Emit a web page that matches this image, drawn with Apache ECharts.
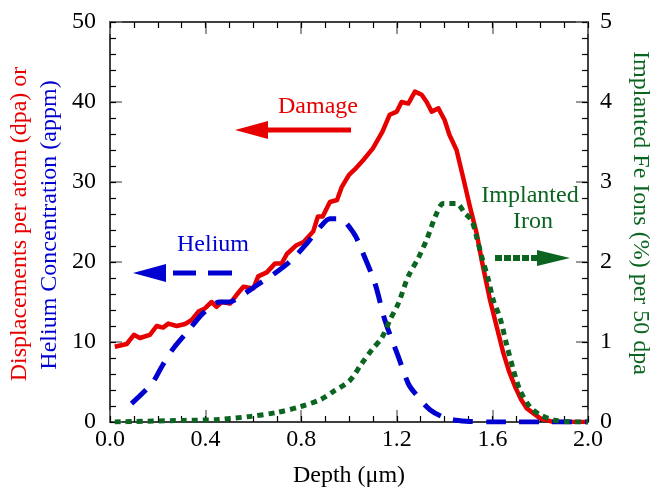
<!DOCTYPE html>
<html>
<head>
<meta charset="utf-8">
<script src="https://cdn.jsdelivr.net/npm/echarts@6/dist/echarts.min.js"></script>
<style>html,body{margin:0;padding:0;background:#fff}#chart{width:657px;height:491px}</style>
</head>
<body>
<div id="chart"></div>
<script>
// Damage profile (dpa) vs depth (µm)
const damageDepth = [0.02,0.07,0.10,0.125,0.167,0.195,0.222,0.244,0.279,0.314,0.342,0.37,0.397,0.425,0.446,0.467,0.502,0.53,0.558,0.60,0.62,0.656,0.69,0.718,0.74,0.78,0.81,0.85,0.87,0.89,0.92,0.95,0.97,1.00,1.025,1.06,1.10,1.14,1.17,1.20,1.22,1.248,1.276,1.304,1.325,1.346,1.374,1.40,1.42,1.45,1.48,1.506,1.534,1.555,1.59,1.618,1.646,1.67,1.695,1.72,1.744,1.80,1.85,1.95,2.0];
const damageDpa = [9.4,9.75,10.9,10.5,10.9,12.0,11.8,12.3,12.0,12.25,12.75,13.8,14.2,15.0,14.4,15.0,14.8,15.9,16.9,16.7,18.2,18.7,19.8,19.8,21.0,22.1,22.5,23.8,25.7,25.7,27.5,27.75,29.4,30.9,31.6,32.75,34.2,36.3,38.4,38.8,40.0,39.8,41.3,40.9,40.0,38.8,39.2,37.75,35.9,34.0,30.25,26.9,23.6,20.25,15.25,11.9,8.6,6.3,4.4,2.8,1.7,0.46,0.04,0,0];

// Helium concentration (appm) vs depth (µm)
const heliumDepth = [0.09,0.175,0.22,0.265,0.33,0.39,0.46,0.50,0.537,0.614,0.69,0.76,0.823,0.886,0.92,0.96,1.02,1.053,1.109,1.15,1.206,1.248,1.276,1.34,1.41,1.49,1.6,2.0];
const heliumAppm = [2.3,4.8,7.1,9.2,11.5,13.6,15.0,15.0,15.5,17.1,18.6,20.25,22.3,24.6,25.4,25.4,23.6,21.5,17.3,12.75,8.2,4.8,3.6,1.5,0.46,0.1,0,0];

// Implanted Fe ions (%) per 50 dpa vs depth (µm)
const ironDepth = [0.02,0.31,0.45,0.586,0.70,0.795,0.88,0.934,1.004,1.053,1.10,1.137,1.172,1.206,1.248,1.29,1.325,1.367,1.395,1.45,1.485,1.513,1.535,1.555,1.583,1.604,1.632,1.66,1.688,1.715,1.757,1.80,1.855,1.92,2.0];
const ironPct = [0,0.02,0.03,0.07,0.12,0.19,0.28,0.38,0.52,0.73,0.92,1.05,1.28,1.48,1.82,2.05,2.28,2.61,2.73,2.73,2.61,2.52,2.3,2.07,1.78,1.52,1.30,0.96,0.65,0.40,0.19,0.09,0.025,0.003,0];

const pairs = (xs, ys) => xs.map((x, i) => [x, ys[i]]);

const FONT = "'Liberation Serif'";
const RED = '#e60000';
const BLUE = '#0000d0';
const GREEN = '#0b6420';

const chart = echarts.init(document.getElementById('chart'));

const GRID = { left: 110, right: 69, top: 22, bottom: 69, containLabel: false, outerBoundsMode: 'none' };
const majorTick = { show: true, inside: true, length: 12, lineStyle: { color: '#777', width: 1.5 } };
const minorTick = { show: true, inside: true, length: 6, lineStyle: { color: '#000', width: 1.2 } };
const frame = { show: true, onZero: false, lineStyle: { color: '#000', width: 1.5 } };
const labelStyle = { color: '#000', fontFamily: FONT, fontSize: 24 };

// second grid carries the fine tick marks only
const minorAxis = (extra) => Object.assign({
  type: 'value', gridIndex: 1, axisLine: { show: false, onZero: false }, axisTick: minorTick,
  axisLabel: { show: false }, splitLine: { show: false }
}, extra);

chart.setOption({
  animation: false,
  grid: [GRID, Object.assign({}, GRID)],
  xAxis: [{
    type: 'value', gridIndex: 0, min: 0, max: 2.0, interval: 0.4, position: 'bottom',
    axisLine: frame, axisTick: majorTick, splitLine: { show: false },
    axisLabel: Object.assign({ margin: 6, formatter: v => v.toFixed(1) }, labelStyle),
    name: 'Depth (\u03bcm)', nameLocation: 'middle', nameGap: 42,
    nameTextStyle: labelStyle
  }, {
    type: 'value', gridIndex: 0, min: 0, max: 2.0, interval: 0.4, position: 'top',
    axisLine: frame, axisTick: majorTick, splitLine: { show: false }, axisLabel: { show: false }
  },
    minorAxis({ min: 0, max: 2.0, interval: 0.1, position: 'bottom' }),
    minorAxis({ min: 0, max: 2.0, interval: 0.1, position: 'top' })
  ],
  yAxis: [{
    type: 'value', gridIndex: 0, min: 0, max: 50, interval: 10, position: 'left',
    axisLine: frame, axisTick: majorTick, splitLine: { show: false },
    axisLabel: Object.assign({ margin: 14 }, labelStyle)
  }, {
    type: 'value', gridIndex: 0, min: 0, max: 5, interval: 1, position: 'right',
    axisLine: frame, axisTick: majorTick, splitLine: { show: false },
    axisLabel: Object.assign({ margin: 12 }, labelStyle)
  },
    minorAxis({ min: 0, max: 50, interval: 2, position: 'left' }),
    minorAxis({ min: 0, max: 5, interval: 0.2, position: 'right' })
  ],
  series: [{
    name: 'Damage', type: 'line', xAxisIndex: 0, yAxisIndex: 0,
    data: pairs(damageDepth, damageDpa), showSymbol: false,
    lineStyle: { color: RED, width: 4.5, join: 'round' }, z: 2
  }, {
    name: 'Helium', type: 'line', xAxisIndex: 0, yAxisIndex: 0, smooth: 0.3,
    data: pairs(heliumDepth, heliumAppm), showSymbol: false,
    lineStyle: { color: BLUE, width: 5, type: [20, 13] }, z: 3
  }, {
    name: 'Implanted Iron', type: 'line', xAxisIndex: 0, yAxisIndex: 1, smooth: 0.3,
    data: pairs(ironDepth, ironPct), showSymbol: false,
    lineStyle: { color: GREEN, width: 5, type: [6, 5] }, z: 4
  }],
  graphic: [
    // rotated axis titles
    { type: 'text', x: 20, y: 224, rotation: Math.PI / 2,
      style: { text: 'Displacements per atom (dpa) or', font: '24px ' + FONT, fill: RED, align: 'center', verticalAlign: 'middle' } },
    { type: 'text', x: 50, y: 225, rotation: Math.PI / 2,
      style: { text: 'Helium Concentration (appm)', font: '24px ' + FONT, fill: BLUE, align: 'center', verticalAlign: 'middle' } },
    { type: 'text', x: 640, y: 213, rotation: -Math.PI / 2,
      style: { text: 'Implanted Fe Ions (%) per 50 dpa', font: '24px ' + FONT, fill: GREEN, align: 'center', verticalAlign: 'middle' } },
    // Damage label and arrow
    { type: 'text', x: 318, y: 107,
      style: { text: 'Damage', font: '24px ' + FONT, fill: RED, align: 'center', verticalAlign: 'middle' } },
    { type: 'line', shape: { x1: 266, y1: 130, x2: 351, y2: 130 }, style: { stroke: RED, lineWidth: 5 } },
    { type: 'polygon', shape: { points: [[235, 130], [268, 121], [268, 139]] }, style: { fill: RED } },
    // Helium label and arrow
    { type: 'text', x: 213, y: 245,
      style: { text: 'Helium', font: '24px ' + FONT, fill: BLUE, align: 'center', verticalAlign: 'middle' } },
    { type: 'line', shape: { x1: 173, y1: 273, x2: 196, y2: 273 }, style: { stroke: BLUE, lineWidth: 5 } },
    { type: 'line', shape: { x1: 208, y1: 273, x2: 232, y2: 273 }, style: { stroke: BLUE, lineWidth: 5 } },
    { type: 'polygon', shape: { points: [[133, 273], [166, 264], [166, 282]] }, style: { fill: BLUE } },
    // Implanted Iron label and arrow
    { type: 'text', x: 530, y: 196,
      style: { text: 'Implanted', font: '24px ' + FONT, fill: GREEN, align: 'center', verticalAlign: 'middle' } },
    { type: 'text', x: 533, y: 222,
      style: { text: 'Iron', font: '24px ' + FONT, fill: GREEN, align: 'center', verticalAlign: 'middle' } },
    { type: 'line', shape: { x1: 495, y1: 258, x2: 537, y2: 258 }, style: { stroke: GREEN, lineWidth: 6, lineDash: [7, 2] } },
    { type: 'polygon', shape: { points: [[570, 258], [537, 250], [537, 266]] }, style: { fill: GREEN } }
  ]
});
</script>
</body>
</html>
